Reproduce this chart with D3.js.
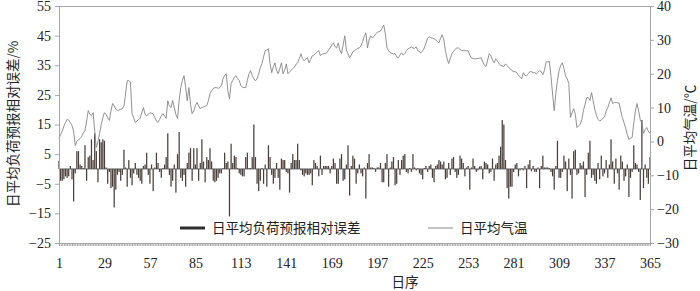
<!DOCTYPE html>
<html>
<head>
<meta charset="utf-8">
<script src="https://cdn.jsdelivr.net/npm/d3@7"></script>
<style>
  body { margin: 0; background: #fff; }
  svg { display: block; }
  .num { font-family: "Liberation Serif", "Times New Roman", serif; font-size: 14px; fill: #222; }
  .cjk { font-family: "Noto Sans CJK SC", sans-serif; font-size: 13.5px; fill: #222; }
</style>
</head>
<body>
<div id="chart"></div>
<script>
// day-by-day relative forecast error of daily mean load (%)
const errors = [
  2.7, -4, -4, -3.5, -2.5, -3, -2.5, 1, -3.5, -11,          // 1-10
  -1.5, 6, 6, 1.5, 1, 0.3, 8, -4, 4, 4.5,                   // 11-20
  10, 3, 12, 6, -4.5, 10, 9, 10, 9.5, 0.5,                  // 21-30
  -5, -1, -6.5, -6, -13, -7, -2, -1, -4, -2,                // 31-40
  6.5, 0.5, -6, 3, -3, -5.5, -1.5, 2, -2, -3,               // 41-50
  -4, -5, 1, 1.5, 5.5, -2, -5, 1.5, -7.5, 0.5,              // 51-60
  5.5, 2, -1, -3, 0.3, 1.5, 4, 12, -2, -6,                  // 61-70
  -4, 1.5, -8, 5, 12.5, -3, -4, -2, -6, 2,                  // 71-80
  5.5, 7, -4, 7, 1.5, 7, -4, 2, 10, 2.5,                    // 81-90
  -4.5, 4, 3, 7, 2.5, -4, -4.5, -4, -3, -1.5,               // 91-100
  -1.5, 0.3, 5.5, 2, 2.5, -16, 8.5, 2, 4.5, 4,              // 101-110
  0.3, -1.5, -2, -2.5, -2.5, 4, 5.5, 0.3, 0.3, 4,           // 111-120
  15, 4, -5, -7.5, -4, 0.3, -5, 1.5, -6, 8,                 // 121-130
  4, -2, -5, -3, 2, -3, -7, 3.5, 3, 3,                      // 131-140
  -1, -1.5, -8, 2, 5, 3, 3, 8.5, 3, -0.5,                   // 141-150
  -2, -2.5, -1.5, -2, -2, -1.5, -5.5, 3, 2, 1,              // 151-160
  -2.5, 4.5, -2, 1, 1, 1, 1, -1.5, 1, 3.5,                  // 161-170
  2, -5, -5, 3.5, 5, -4, -3.5, 1.5, 8, -9,                  // 171-180
  1, 4.5, 3.5, -5, -1.5, 1.5, -1.5, -2.5, 0.5, -10,         // 181-190
  2, 5, 0.5, 0.5, 0.3, -1, 0.5, 0.5, 2, -4.5,               // 191-200
  -4.5, 2, 5, -6, 0.5, 2.5, 4, -5.5, -5, 3,                 // 201-210
  -2, 3, 4.5, 5, -1, -1.5, 0.3, -1, 5, 0.5,                 // 211-220
  -0.5, 0.3, -1.5, -2, -3.5, 0.3, 1, -1, 1, 1.5,            // 221-230
  -3, -4.5, 1, 1.5, 3, 2.5, 1.5, 2.5, -3.5, -3,             // 231-240
  2, -2, 3.5, 4, -1, -3, -2, 4.5, 3.5, 2,                   // 241-250
  -2.5, 0.5, 1, -7, 0.5, 3.5, 1, -1, -0.5, 0.8,             // 251-260
  1, -3.5, 2.5, 2, 1.5, -1.5, -1, 3.5, -4, 1.5,             // 261-270
  2, 4.5, 7.5, 16.5, 15, 3, -6.5, -10, -6, -6,              // 271-280
  -1, 1.5, 2, -2.5, -0.5, 0.3, -0.5, 1, -6.5, 1.5,          // 281-290
  3, -0.8, 1, -1, -1, 0.5, -6.5, 1, 4.5, 0.5,               // 291-300
  0.5, 0.5, 0.3, -1, -2.5, -7, 1, 9.5, -3, -3,              // 301-310
  -1, 4.5, 2.5, -7.5, 3.5, -2, -10, 6, 6.5, -2,             // 311-320
  -1.5, 2, 1.2, 2.5, -9.5, -2, 5.5, 9.5, -3, -2,            // 321-330
  -4, -5, 2, -3.5, 4.5, -2.5, -1.5, 3, -3, 1.5,             // 331-340
  10, 2.5, -5, 3.5, -1.5, -7, 4.5, 2.5, -4, -2.5,           // 341-350
  1.5, -9.5, -3, -1, 8, 2, 1.5, -1, -10.5, 16.5,            // 351-360
  -6.5, 1.5, -3, -5, 4                                      // 361-365
];

// day-by-day mean air temperature (°C)
const temps = [
  0.9, 2, 3, 4.5, 5.5, 6.5, 6.3, 5.5, 4.7, 3,
  -1.2, 0, 0.5, 0.9, 1.5, 2.5, 3.2, 6, 9.1, 8,
  7.6, 8.5, 3, -1.8, 0, 2.4, 5, 7, 8.5, 8,
  7, 6.2, 9, 11.2, 10.5, 9.5, 9.1, 9.3, 9.5, 9.7,
  10.5, 14, 17.9, 18, 17.5, 8.2, 7, 5.6, 6, 6.5,
  6.8, 8.5, 10, 8, 7.6, 8, 8.5, 8.3, 8.2, 7,
  6, 5.6, 6.5, 7.5, 8.2, 7.5, 6.8, 12, 10.5, 10,
  12.1, 10, 8, 6.8, 12, 15.9, 18, 19.4, 16, 12,
  15.9, 11, 8.2, 9, 10.5, 11.5, 10.5, 9.7, 10, 10.2,
  10.4, 10.6, 12, 14.1, 15, 15.6, 15.9, 15.9, 15.7, 15.9,
  16.5, 18.5, 19.5, 20, 15, 12.6, 17.1, 18, 19, 19.4,
  18.5, 18, 16.5, 16, 15.9, 15.9, 18, 20, 20.9, 19.5,
  18.5, 17.9, 18.5, 20, 21.8, 23, 25, 26.8, 27, 27.4,
  23, 20.3, 22, 23.2, 21, 20, 21.5, 23.2, 20, 21,
  22.9, 20, 20.5, 21, 21.5, 22, 22.8, 23.2, 24.5, 25.9,
  24.5, 23.8, 24.3, 24.7, 23.2, 24.2, 25.3, 25.5, 26, 26.5,
  26.8, 25.3, 25.8, 25.9, 26, 26.2, 27, 27.6, 28.5, 29.1,
  28, 27.6, 29.1, 27, 25.9, 28.5, 31.2, 27, 25.9, 24.7,
  25.5, 26.5, 26.8, 27.2, 27.5, 27.6, 28.2, 29.5, 31, 32.1,
  27.6, 30, 31.2, 30.6, 31, 31.8, 32.2, 32.4, 32.6, 33.5,
  34.4, 31.8, 27.6, 26.8, 26.2, 26, 25.8, 25.9, 25, 24.7,
  25.5, 26.2, 25.5, 26, 26.8, 27.4, 27.6, 27.9, 27.6, 27.5,
  27.9, 26.8, 26.5, 26.2, 26.8, 27.6, 29, 30.5, 30.9, 30.6,
  30.5, 30.3, 30, 29.5, 29.1, 30.5, 31.5, 30, 26.8, 24.5,
  23, 24.5, 25.9, 26.6, 27.2, 27.6, 27.6, 27.2, 26.8, 26.8,
  26.8, 26.8, 26.8, 25.5, 24.7, 24.5, 24.4, 24.4, 24.5, 24.6,
  24.7, 23.5, 22.5, 22.1, 24, 25.9, 25.3, 24, 23.2, 24.4,
  23.8, 23, 22.4, 22.3, 22.1, 22.9, 22.4, 21.8, 21.5, 20.9,
  20.6, 20.6, 20.3, 19.5, 19.1, 18.5, 20.3, 19.5, 19.4, 20,
  20.6, 20.6, 20.3, 20.3, 20, 20.4, 20.9, 20.6, 19.7, 21,
  23.5, 23.5, 23.6, 19.4, 14, 9.1, 14.1, 18, 20.9, 22.5,
  23.2, 21.5, 19.4, 18.5, 17.1, 7.1, 8.5, 9.7, 8, 4.1,
  4.6, 5, 6.5, 9.1, 11, 12.9, 13, 12.1, 14.4, 12,
  9.5, 7.7, 6.5, 6, 6.3, 6.8, 7.3, 9, 10, 11.5,
  12.9, 11.2, 11.5, 11.5, 11.4, 11.3, 9, 7, 5.5, 4,
  2, 0.6, 0.9, 1.2, 5.3, 9, 11.2, 9, 6.5, 5.3,
  2.4, 3.5, 4.1, 3, 2.4
];

const dayTicks = [1, 29, 57, 85, 113, 141, 169, 197, 225, 253, 281, 309, 337, 365];
const leftTicks = [-25, -15, -5, 5, 15, 25, 35, 45, 55];
const rightTicks = [-30, -20, -10, 0, 10, 20, 30, 40];

const width = 700, height = 291;
const m = {left: 59, right: 650, top: 6, bottom: 243};
const axisColor = "#a6a6a6";

const days = d3.range(1, 366);
const rows = days.map((d, i) => ({day: d, err: errors[i], temp: temps[i]}));

const x = d3.scaleLinear().domain([1, 365]).range([m.left, m.right]);
const yL = d3.scaleLinear().domain([-25, 55]).range([m.bottom, m.top]);
const yR = d3.scaleLinear().domain([-30, 40]).range([m.bottom, m.top]);

const svg = d3.select("#chart").append("svg")
    .attr("width", width)
    .attr("height", height);

// top frame
svg.append("line")
    .attr("x1", m.left).attr("x2", m.right)
    .attr("y1", m.top + 0.5).attr("y2", m.top + 0.5)
    .attr("stroke", axisColor).attr("stroke-width", 1);

// bars
const bw = 1.25;
svg.append("g")
    .selectAll("rect")
    .data(rows)
    .join("rect")
    .attr("x", d => x(d.day) - bw / 2)
    .attr("width", bw)
    .attr("y", d => Math.min(yL(d.err), yL(0)))
    .attr("height", d => Math.abs(yL(d.err) - yL(0)))
    .attr("fill", "#4a3f3b");

// zero line
svg.append("line")
    .attr("x1", m.left).attr("x2", m.right)
    .attr("y1", yL(0)).attr("y2", yL(0))
    .attr("stroke", "#4a4a4a").attr("stroke-width", 0.8);

// temperature line
svg.append("path")
    .datum(rows)
    .attr("fill", "none")
    .attr("stroke", "#858585")
    .attr("stroke-width", 0.9)
    .attr("d", d3.line().x(d => x(d.day)).y(d => yR(d.temp)));

function styleAxis(g) {
  g.select(".domain").attr("stroke", axisColor);
  g.selectAll(".tick line").attr("stroke", axisColor);
  g.selectAll("text").attr("class", "num").attr("fill", null);
  g.attr("font-family", null).attr("font-size", null);
}

// left axis
svg.append("g")
    .attr("transform", `translate(${m.left},0)`)
    .call(d3.axisLeft(yL).tickValues(leftTicks).tickSize(4).tickSizeOuter(0).tickPadding(4))
    .call(styleAxis);

// right axis
svg.append("g")
    .attr("transform", `translate(${m.right},0)`)
    .call(d3.axisRight(yR).tickValues(rightTicks).tickSize(4).tickSizeOuter(0).tickPadding(3))
    .call(styleAxis);

// bottom axis: one small tick per day
svg.append("g")
    .attr("transform", `translate(0,${m.bottom})`)
    .call(d3.axisBottom(x).tickValues(days).tickFormat("").tickSize(3).tickSizeOuter(0))
    .call(styleAxis)
    .select(".domain").attr("d", `M${m.left - 4},0.5H${m.right}`);

// bottom labels
svg.append("g")
    .attr("transform", `translate(0,${m.bottom})`)
    .call(d3.axisBottom(x).tickValues(dayTicks).tickSize(0).tickPadding(15))
    .call(styleAxis)
    .select(".domain").remove();

// axis titles
svg.append("text")
    .attr("class", "cjk")
    .attr("text-anchor", "middle")
    .attr("transform", "translate(18,124) rotate(-90)")
    .text("日平均负荷预报相对误差/%");

svg.append("text")
    .attr("class", "cjk")
    .attr("text-anchor", "middle")
    .attr("transform", "translate(695,128) rotate(-90)")
    .text("日平均气温/℃");

svg.append("text")
    .attr("class", "cjk")
    .attr("x", 405).attr("y", 287)
    .attr("text-anchor", "middle")
    .text("日序");

// legend
const legend = [
  {label: "日平均负荷预报相对误差", x: 180, color: "#2e2e2e", w: 3},
  {label: "日平均气温", x: 428, color: "#858585", w: 1}
];
const lg = svg.append("g")
    .selectAll("g")
    .data(legend)
    .join("g")
    .attr("transform", d => `translate(${d.x},228)`);
lg.append("line")
    .attr("x1", 0).attr("x2", 25)
    .attr("stroke", d => d.color)
    .attr("stroke-width", d => d.w);
lg.append("text")
    .attr("class", "cjk")
    .attr("x", 32).attr("y", 5)
    .text(d => d.label);
</script>
</body>
</html>
